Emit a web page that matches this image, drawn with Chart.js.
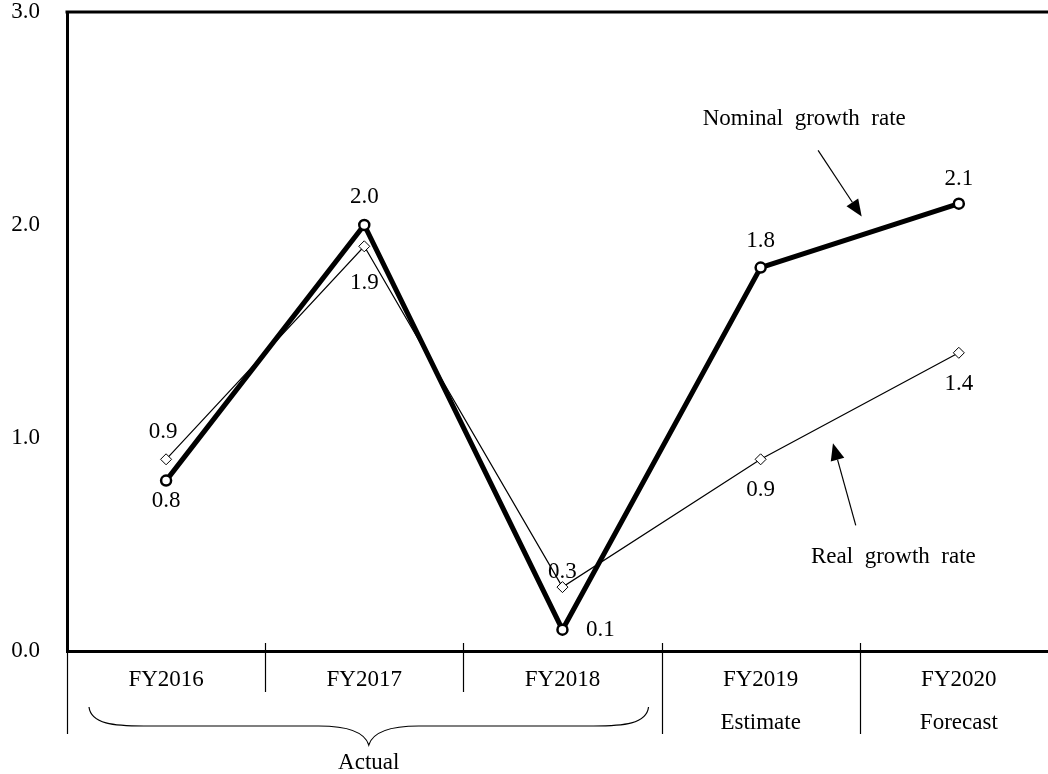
<!DOCTYPE html>
<html>
<head>
<meta charset="utf-8">
<script src="https://cdn.jsdelivr.net/npm/chart.js@4.4.1/dist/chart.umd.min.js"></script>
<style>
  html, body { margin: 0; padding: 0; background: #fff; overflow: hidden; }
  #wrap { width: 1048px; height: 774px; position: relative; }
</style>
</head>
<body>
<div id="wrap"><canvas id="c"></canvas></div>
<script>
// Fiscal years and the status line printed under each one
const categories = ['FY2016', 'FY2017', 'FY2018', 'FY2019', 'FY2020'];
const categoryNotes = ['', '', '', 'Estimate', 'Forecast'];

// Growth rates (%)
const nominalGrowth = [0.8, 2.0, 0.1, 1.8, 2.1];
const realGrowth = [0.9, 1.9, 0.3, 0.9, 1.4];

// Y axis ticks
const yTicks = [0, 1, 2, 3];

const FONT = '"Liberation Serif", "Times New Roman", serif';
const FS = 23;

// Where each value label sits relative to its point, in pixels
const nominalLabelOffset = [[0, 20], [0, -28], [38, 0], [0, -27], [0, -25]];
const realLabelOffset = [[-3, -27], [0, 37], [0, -15], [0, 31], [0, 31]];

const toPoints = arr => arr.map((v, i) => ({ x: i, y: v }));

const decorations = {
  id: 'decorations',
  afterDraw(chart) {
    const ctx = chart.ctx;
    const xs = chart.scales.x, ys = chart.scales.y;
    const area = chart.chartArea;
    const px = v => xs.getPixelForValue(v);
    const py = v => ys.getPixelForValue(v);
    ctx.save();
    ctx.strokeStyle = '#000';
    ctx.fillStyle = '#000';

    // top frame line
    ctx.lineWidth = 3;
    ctx.beginPath();
    ctx.moveTo(area.left - 1.5, area.top);
    ctx.lineTo(chart.width, area.top);
    ctx.stroke();

    // category separators under the axis
    ctx.lineWidth = 1.2;
    const seps = [
      { v: -0.5, y0: area.bottom, y1: 734 },
      { v: 0.5, y0: area.bottom - 8, y1: 692 },
      { v: 1.5, y0: area.bottom - 8, y1: 692 },
      { v: 2.5, y0: area.bottom - 8, y1: 734 },
      { v: 3.5, y0: area.bottom - 8, y1: 734 }
    ];
    seps.forEach(s => {
      const x = Math.round(px(s.v)) + 0.5;
      ctx.beginPath();
      ctx.moveTo(x, s.y0);
      ctx.lineTo(x, s.y1);
      ctx.stroke();
    });

    // curly brace grouping the actual years
    const bl = px(-0.5) + 22, br = px(2.5) - 13, bm = (bl + br) / 2;
    const yTip = 707, yMid = 726, yPeak = 745;
    ctx.lineWidth = 1.2;
    ctx.beginPath();
    ctx.moveTo(bl, yTip);
    ctx.bezierCurveTo(bl + 2, yMid - 2, bl + 25, yMid, bl + 55, yMid);
    ctx.lineTo(bm - 50, yMid);
    ctx.bezierCurveTo(bm - 22, yMid, bm - 4, yMid + 6, bm, yPeak);
    ctx.bezierCurveTo(bm + 4, yMid + 6, bm + 22, yMid, bm + 50, yMid);
    ctx.lineTo(br - 55, yMid);
    ctx.bezierCurveTo(br - 25, yMid, br - 2, yMid - 2, br, yTip);
    ctx.stroke();

    ctx.font = FS + 'px ' + FONT;
    ctx.textAlign = 'center';
    ctx.textBaseline = 'middle';
    ctx.fillText('Actual', bm, 763);

    // value labels
    const drawLabels = (vals, offs) => {
      vals.forEach((v, i) => {
        ctx.fillText(v.toFixed(1), px(i) + offs[i][0], py(v) + offs[i][1]);
      });
    };
    drawLabels(nominalGrowth, nominalLabelOffset);
    drawLabels(realGrowth, realLabelOffset);

    // series call-outs with arrows
    const arrow = (x0, y0, x1, y1) => {
      const a = Math.atan2(y1 - y0, x1 - x0);
      const hl = 17, hw = 7;
      const bx = x1 - hl * Math.cos(a), by = y1 - hl * Math.sin(a);
      ctx.lineWidth = 1.2;
      ctx.beginPath();
      ctx.moveTo(x0, y0);
      ctx.lineTo(bx, by);
      ctx.stroke();
      ctx.beginPath();
      ctx.moveTo(x1, y1);
      ctx.lineTo(bx + hw * Math.sin(a), by - hw * Math.cos(a));
      ctx.lineTo(bx - hw * Math.sin(a), by + hw * Math.cos(a));
      ctx.closePath();
      ctx.fill();
    };
    ctx.fillText('Nominal  growth  rate', px(3.22), py(2.50));
    arrow(px(3.29), py(2.35), px(3.51), py(2.04));
    ctx.fillText('Real  growth  rate', px(3.67), py(0.44));
    arrow(px(3.48), py(0.59), px(3.365), py(0.975));

    ctx.restore();
  }
};

new Chart(document.getElementById('c'), {
  type: 'line',
  data: {
    datasets: [
      {
        label: 'Nominal growth rate',
        data: toPoints(nominalGrowth),
        borderColor: '#000',
        borderWidth: 5,
        pointStyle: 'circle',
        pointRadius: 5,
        pointBorderWidth: 2.5,
        pointBackgroundColor: '#fff',
        pointBorderColor: '#000',
        tension: 0,
        order: 1
      },
      {
        label: 'Real growth rate',
        data: toPoints(realGrowth),
        borderColor: '#000',
        borderWidth: 1.2,
        pointStyle: 'rectRot',
        pointRadius: 5.5,
        pointBorderWidth: 1,
        pointBackgroundColor: '#fff',
        pointBorderColor: '#000',
        tension: 0,
        order: 2
      }
    ]
  },
  options: {
    responsive: true,
    maintainAspectRatio: false,
    animation: false,
    layout: { autoPadding: false, padding: { top: 12, right: 0, bottom: 0, left: 0 } },
    plugins: { legend: { display: false }, tooltip: { enabled: false } },
    scales: {
      x: {
        type: 'linear',
        min: -0.5,
        max: 4.45,
        afterBuildTicks: s => { s.ticks = categories.map((c, i) => ({ value: i })); },
        afterFit: s => {
          s.height = 123;
          s.paddingLeft = 0; s.paddingRight = 0; s.paddingTop = 0; s.paddingBottom = 0;
        },
        grid: { display: false, drawTicks: false },
        border: { display: true, color: '#000', width: 3 },
        ticks: {
          autoSkip: false,
          maxRotation: 0,
          padding: 8,
          color: '#000',
          font: { family: FONT, size: FS, lineHeight: 1.85 },
          callback: (v) => categoryNotes[v] ? [categories[v], categoryNotes[v]] : categories[v]
        }
      },
      y: {
        min: 0,
        max: 3,
        afterBuildTicks: s => { s.ticks = yTicks.map(v => ({ value: v })); },
        afterFit: s => {
          s.width = 67;
          s.paddingLeft = 0; s.paddingRight = 0; s.paddingTop = 0; s.paddingBottom = 0;
        },
        grid: { display: false, drawTicks: false },
        border: { display: true, color: '#000', width: 3 },
        ticks: {
          padding: 27,
          color: '#000',
          font: { family: FONT, size: FS },
          callback: v => v.toFixed(1)
        }
      }
    }
  },
  plugins: [decorations]
});
</script>
</body>
</html>
